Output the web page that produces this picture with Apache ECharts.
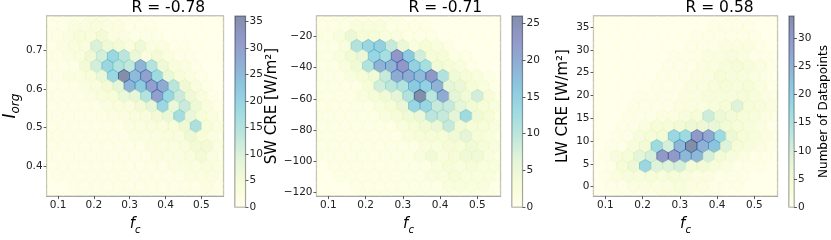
<!DOCTYPE html>
<html><head><meta charset="utf-8">
<script src="https://cdn.jsdelivr.net/npm/echarts@6/dist/echarts.min.js"></script>
<style>html,body{margin:0;padding:0;background:#fff}#c{width:831px;height:240px}</style>
</head><body><div id="c"></div>
<script>
// ---------- data ----------
const titles = ['R = -0.78', 'R = -0.71', 'R = 0.58'];
const xRange = [0.068, 0.562];
const yRange1 = [0.322, 0.789];
const yRange2 = [-122.4, -6.9];
const yRange3 = [-2.06, 37.4];
const xTicks = [0.1, 0.2, 0.3, 0.4, 0.5];
const yTicks1 = [0.4, 0.5, 0.6, 0.7];
const yTicks2 = [-120, -100, -80, -60, -40, -20];
const yTicks3 = [0, 5, 10, 15, 20, 25, 30, 35];
const cbarMax = [36, 26, 34];
const cbarTicks1 = [0, 5, 10, 15, 20, 25, 30, 35];
const cbarTicks2 = [0, 5, 10, 15, 20, 25];
const cbarTicks3 = [0, 5, 10, 15, 20, 25, 30];
const gridSizeX = 16, gridSizeY = 9;   // hexbin gridsize

// hexbin counts, rows from top of plot to bottom (alternating 17 / 16 hexes)
const counts1 = [
  [0,1,1,1,2,2,1,1,1,0,0,0,0,0,0,0,0],
  [1,1,2,2,3,2,2,1,1,1,0,0,0,0,0,0],
  [1,1,2,4,3,5,2,2,1,1,1,0,0,0,0,0,0],
  [1,2,3,3,10,6,5,3,6,2,2,1,1,0,0,0],
  [1,1,2,3,6,11,19,14,7,3,5,2,1,1,0,0,0],
  [1,1,1,5,11,19,15,13,26,15,6,3,2,1,0,0],
  [1,1,2,2,4,7,19,36,25,30,18,7,4,2,1,0,0],
  [1,1,1,2,3,5,8,26,22,30,28,14,6,3,1,0],
  [1,1,1,1,2,3,4,7,8,15,30,19,12,6,3,1,0],
  [1,1,1,1,1,2,3,3,5,8,19,7,12,6,3,1],
  [1,1,1,1,1,1,2,2,3,3,5,7,17,7,4,2,1],
  [1,1,1,1,1,1,1,2,2,3,3,4,6,16,4,2],
  [1,1,1,1,1,1,1,1,2,2,2,3,3,6,4,2,1],
  [1,1,1,1,1,1,1,1,1,2,2,2,3,5,5,2],
  [1,1,1,1,1,1,1,1,1,1,2,2,2,3,5,2,1],
  [1,1,1,1,1,1,1,1,1,1,1,2,2,2,3,2],
  [0,1,1,1,1,1,1,1,1,1,1,1,1,2,2,2,1],
  [0,0,1,1,1,1,1,1,1,1,1,1,1,1,2,1],
  [0,0,0,1,1,1,1,1,1,1,1,1,1,1,1,1,0]
];
const counts2 = [
  [0,1,1,1,1,1,1,1,0,0,0,0,0,0,0,0,0],
  [1,1,1,2,2,2,1,1,1,1,0,0,0,0,0,0],
  [1,1,2,5,3,3,2,2,1,1,1,0,0,0,0,0,0],
  [1,1,2,11,14,15,9,5,2,3,2,1,0,0,0,0],
  [1,1,2,4,5,14,12,23,16,8,3,3,1,1,0,0,0],
  [1,1,2,4,11,19,19,23,15,12,4,3,2,1,0,0],
  [1,1,1,2,3,4,9,20,20,18,23,11,4,3,2,1,0],
  [1,1,1,1,3,8,10,11,16,15,19,6,5,3,2,1],
  [1,1,1,1,2,3,4,6,11,26,10,20,6,4,8,3,1],
  [1,1,1,1,1,2,3,5,14,14,9,9,6,4,3,2],
  [1,1,1,1,1,1,2,3,4,5,10,9,6,13,4,3,1],
  [1,1,1,1,1,1,1,2,3,4,5,9,4,3,3,2],
  [1,1,1,1,1,1,1,1,2,3,3,3,4,6,3,2,1],
  [1,1,1,1,1,1,1,1,1,2,2,3,3,4,3,2],
  [1,1,1,1,1,1,1,1,1,2,4,2,3,4,4,2,1],
  [0,1,1,1,1,1,1,1,1,1,2,3,2,3,2,2],
  [0,0,1,1,1,1,1,1,1,1,2,2,3,2,2,2,1],
  [0,0,0,1,1,1,1,1,1,1,1,2,2,2,2,1],
  [0,0,0,0,1,1,1,1,1,1,1,1,1,1,1,1,0]
];
const counts3 = [
  [0,0,0,0,0,0,0,0,0,0,0,0,1,0,0,0,0],
  [0,0,0,0,0,0,0,0,0,0,1,1,1,1,0,0],
  [0,0,0,0,0,0,0,0,0,1,1,1,1,1,1,0,0],
  [0,0,0,0,0,0,0,0,1,1,1,2,2,2,1,0],
  [0,0,0,0,0,0,0,1,1,1,2,2,3,2,1,1,0],
  [0,0,0,0,0,0,1,1,1,2,2,3,4,3,2,1],
  [0,0,0,0,0,0,1,1,1,2,2,4,3,3,2,1,0],
  [0,0,0,0,0,1,1,1,2,2,3,4,3,4,2,1],
  [0,0,0,0,1,1,1,1,2,2,3,3,3,4,3,2,1],
  [0,0,0,1,1,1,1,2,2,2,3,4,9,4,3,2],
  [0,0,0,1,1,1,2,2,3,4,11,6,5,4,3,2,1],
  [0,0,1,1,2,4,4,5,6,6,7,5,4,3,2,1],
  [0,0,1,1,3,4,5,18,17,30,27,17,6,4,3,2,1],
  [0,1,1,3,5,17,10,24,34,25,22,9,4,3,2,1],
  [0,1,3,4,8,10,30,30,24,24,10,5,3,2,1,1,0],
  [0,1,4,6,18,9,9,10,5,5,3,2,1,1,1,0],
  [0,1,2,3,3,4,3,4,3,2,2,1,1,1,0,0,0],
  [0,1,1,2,2,2,2,3,2,2,1,1,1,0,0,0],
  [0,0,1,1,1,1,2,2,2,1,1,1,0,0,0,0,0]
];

// ---------- styling / layout ----------
const FONT = 'DejaVu Sans';
const YlGnBu = ['#ffffd9','#edf8b1','#c7e9b4','#7fcdbb','#41b6c4','#1d91c0','#225ea8','#253494','#081d58'];
const ALPHA = 0.5;
const SPINE = '#8a8a8a';
const panels = [
  {left: 39.5, width: 184, cbLeft: 235, yr: yRange1, yt: yTicks1, counts: counts1, cbt: cbarTicks1,
   yname: '{i|I}{s|org}', yfmt: v => v.toFixed(1), ygap: 24},
  {left: 316.5, width: 184, cbLeft: 512, yr: yRange2, yt: yTicks2, counts: counts2, cbt: cbarTicks2,
   yname: 'SW CRE [W/m²]', yfmt: v => (v < 0 ? '\u2212' + Math.abs(v) : '' + v), ygap: 24},
  {left: 593.5, width: 184, cbLeft: 789, yr: yRange3, yt: yTicks3, counts: counts3, cbt: cbarTicks3,
   yname: 'LW CRE [W/m²]', yfmt: v => '' + v, ygap: 23}
];
const TOP = 16, HEIGHT = 191, CBW = 10.5;

function buildHex(rows, xr, yr) {
  const sx = (xr[1] - xr[0]) / gridSizeX, sy = (yr[1] - yr[0]) / gridSizeY;
  const out = [];
  rows.forEach((row, k) => {
    const r = rows.length - 1 - k;
    const off = r % 2 ? 0.5 : 0;
    row.forEach((v, i) => out.push([xr[0] + (i + off) * sx, yr[0] + r * sy / 2, v]));
  });
  return {data: out, sx, sy};
}

function hexRender(sx, sy) {
  return function (params, api) {
    const c = api.coord([api.value(0), api.value(1)]);
    const s = api.size([sx, sy]);
    const hw = s[0] / 2, h1 = s[1] / 3, h2 = s[1] / 6;
    const pts = [[c[0] + hw, c[1] - h2], [c[0] + hw, c[1] + h2], [c[0], c[1] + h1],
                 [c[0] - hw, c[1] + h2], [c[0] - hw, c[1] - h2], [c[0], c[1] - h1]];
    const col = api.visual('color');
    return {type: 'polygon', shape: {points: pts},
            style: {fill: col, stroke: col, lineWidth: 0.8, opacity: ALPHA}};
  };
}

function cbarRender(params, api) {
  const p0 = api.coord([0, 0]);
  const p1 = api.coord([1, api.value(0)]);
  const stops = YlGnBu.map((c, i) => ({offset: i / (YlGnBu.length - 1), color: c}));
  return {type: 'rect', shape: {x: p0[0], y: p1[1], width: p1[0] - p0[0], height: p0[1] - p1[1]},
          style: {fill: {type: 'linear', x: 0, y: 1, x2: 0, y2: 0, colorStops: stops}, opacity: ALPHA}};
}

const grid = [], xAxis = [], yAxis = [], series = [], visualMap = [], graphic = [];
const tickLabel = {fontSize: 10.5, color: '#222', fontFamily: FONT};

panels.forEach((p, k) => {
  grid.push({left: p.left, top: TOP, width: p.width, height: HEIGHT, show: true,
             borderColor: SPINE, borderWidth: 1.2, backgroundColor: 'transparent', containLabel: false});
  xAxis.push({type: 'value', gridIndex: k, min: xRange[0], max: xRange[1],
    name: '{f|f}{c|c}', nameLocation: 'middle', nameGap: 17,
    nameTextStyle: {rich: {
      f: {fontStyle: 'italic', fontSize: 15, fontFamily: FONT, color: '#000', lineHeight: 18, verticalAlign: 'top'},
      c: {fontStyle: 'italic', fontSize: 10, fontFamily: FONT, color: '#000', lineHeight: 10, padding: [9, 0, 0, 0], verticalAlign: 'bottom'}}},
    axisLine: {show: false, onZero: false}, splitLine: {show: false},
    axisTick: {show: true, customValues: xTicks, length: 3, lineStyle: {color: '#333', width: 0.8}},
    axisLabel: Object.assign({customValues: xTicks, formatter: v => (+v).toFixed(1), margin: 4}, tickLabel)});
  yAxis.push({type: 'value', gridIndex: k, min: p.yr[0], max: p.yr[1],
    name: p.yname, nameLocation: 'middle', nameGap: p.ygap, nameRotate: 90,
    nameTextStyle: {fontSize: 15, fontFamily: FONT, color: '#000', rich: {
      i: {fontStyle: 'italic', fontSize: 17, fontFamily: FONT, color: '#000', lineHeight: 20, verticalAlign: 'top'},
      s: {fontStyle: 'italic', fontSize: 12, fontFamily: FONT, color: '#000', lineHeight: 12, padding: [9, 0, 0, 0], verticalAlign: 'bottom'}}},
    axisLine: {show: false, onZero: false}, splitLine: {show: false},
    axisTick: {show: true, customValues: p.yt, length: 3, lineStyle: {color: '#333', width: 0.8}},
    axisLabel: Object.assign({customValues: p.yt, formatter: v => p.yfmt(+v), margin: 4}, tickLabel)});
  const hb = buildHex(p.counts, xRange, p.yr);
  series.push({type: 'custom', name: 'hex' + k, xAxisIndex: k, yAxisIndex: k, clip: true,
               renderItem: hexRender(hb.sx, hb.sy), encode: {x: 0, y: 1}, data: hb.data, silent: true});
  visualMap.push({type: 'continuous', show: false, seriesIndex: k, dimension: 2,
                  min: 0, max: cbarMax[k], inRange: {color: YlGnBu}});
  graphic.push({type: 'text', left: p.left + p.width / 2, top: 0,
    style: {text: titles[k], fontSize: 15.5, fontFamily: FONT, fill: '#000', textAlign: 'center'}});
});

panels.forEach((p, k) => {
  const gi = 3 + k;
  grid.push({left: p.cbLeft, top: TOP, width: CBW, height: HEIGHT, show: true,
             borderColor: SPINE, borderWidth: 1.2, backgroundColor: 'transparent'});
  xAxis.push({type: 'value', gridIndex: gi, min: 0, max: 1, show: false});
  yAxis.push({type: 'value', gridIndex: gi, min: 0, max: cbarMax[k], position: 'right',
    name: k === 2 ? 'Number of Datapoints' : '', nameLocation: 'middle', nameGap: 24, nameRotate: 90,
    nameTextStyle: {fontSize: 12, fontFamily: FONT, color: '#000'},
    axisLine: {show: false, onZero: false}, splitLine: {show: false},
    axisTick: {show: true, customValues: p.cbt, length: 3, lineStyle: {color: '#333', width: 0.8}},
    axisLabel: Object.assign({customValues: p.cbt, margin: 4}, tickLabel)});
  series.push({type: 'custom', xAxisIndex: gi, yAxisIndex: gi, renderItem: cbarRender,
               data: [[cbarMax[k]]], silent: true, z: 1});
});

const chart = echarts.init(document.getElementById('c'), null, {renderer: 'canvas'});
chart.setOption({animation: false, backgroundColor: '#fff', grid, xAxis, yAxis, series, visualMap, graphic});
</script>
</body></html>
